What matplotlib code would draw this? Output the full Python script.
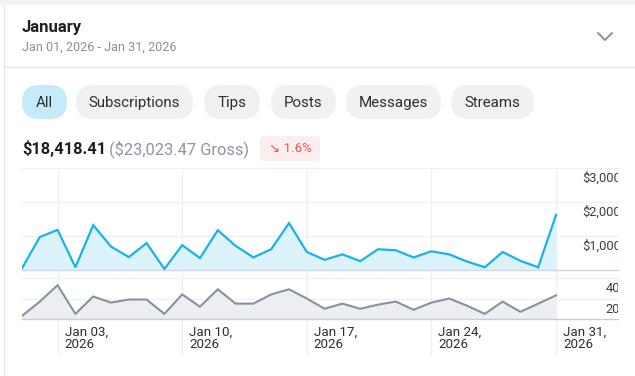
import numpy as np
import matplotlib
matplotlib.use("Agg")
import matplotlib.pyplot as plt
from matplotlib.patches import FancyBboxPatch, Rectangle
from matplotlib import transforms

# ---------------- data ----------------
days = list(range(1, 32))
net_earnings = [50, 970, 1180, 80, 1320, 690, 380, 790, 30, 730, 350, 1170, 710, 370,
                610, 1380, 530, 300, 460, 260, 610, 580, 370, 550, 460, 250, 80, 530,
                270, 80, 1620]
counts = [3, 17, 33, 5, 22, 16, 19, 19, 5, 24, 12, 29, 15, 15, 24, 29, 20, 10, 15, 10,
          14, 17, 9, 16, 20, 13, 5, 17, 7, 15, 23]
tick_days = [3, 10, 17, 24, 31]
tick_dates = ["Jan 03,", "Jan 10,", "Jan 17,", "Jan 24,", "Jan 31,"]
tick_years = ["2026", "2026", "2026", "2026", "2026"]
top_ticks = [1000, 2000, 3000]
top_tick_labels = ["$1,000", "$2,000", "$3,000"]
bottom_ticks = [20, 40]
bottom_tick_labels = ["20", "40"]
pill_labels = ["All", "Subscriptions", "Tips", "Posts", "Messages", "Streams"]
title = "January"
date_range = "Jan 01, 2026 - Jan 31, 2026"
net_total = "$18,418.41"
gross_total = "($23,023.47 Gross)"
change_text = "↘ 1.6%"

# ---------------- setup ----------------
W, H = 635, 376
plt.rcParams['font.family'] = ['Roboto', 'DejaVu Sans']
fig = plt.figure(figsize=(W / 100, H / 100), dpi=100)
fig.patch.set_facecolor("white")


def box(x0, y0, x1, y1):
    return [x0 / W, 1 - y1 / H, (x1 - x0) / W, (y1 - y0) / H]


# overlay for UI elements, pixel coordinates
ui = fig.add_axes([0, 0, 1, 1])
ui.set_xlim(0, W)
ui.set_ylim(H, 0)
ui.axis("off")

ui.add_patch(Rectangle((0, 0), W, 5, color="#f3f4f6", lw=0))
ui.plot([4, 4], [5, H], color="#e4e6e9", lw=1)
ui.plot([4, W], [67, 67], color="#e4e6e9", lw=1)

ui.text(22, 32, title, fontsize=12, fontweight="bold", color="#1d2125", va="baseline")
ui.text(22, 50.5, date_range, fontsize=9.1, color="#8a9099", va="baseline")
ui.plot([598, 605, 612], [33, 40, 33], color="#8a9099", lw=1.4, solid_capstyle="round")

pill_x = [(22, 67), (76, 193), (204, 260), (271, 336), (346, 441), (451, 534)]
for i, (lab, (x0, x1)) in enumerate(zip(pill_labels, pill_x)):
    col = "#c5ebfb" if i == 0 else "#f0f1f3"
    ui.add_patch(FancyBboxPatch((x0, 85), x1 - x0, 34,
                                boxstyle="round,pad=0,rounding_size=17",
                                fc=col, ec="none"))
    ui.text((x0 + x1) / 2, 107.3, lab, fontsize=10.9, color="#2b2f34",
            ha="center", va="baseline")

ui.text(22, 154, net_total, fontsize=11.8, fontweight="bold", color="#1b1f24", va="baseline")
ui.text(109, 154, gross_total, fontsize=11.8, color="#8c96a3", va="baseline")
ui.add_patch(FancyBboxPatch((260, 136), 60, 25, boxstyle="round,pad=0,rounding_size=4",
                            fc="#fdeeee", ec="none"))
ui.text(290, 152, change_text, fontsize=9.6, color="#f05454", ha="center", va="baseline")

# ---------------- charts ----------------
XL, XR = 22, 618
px_per_day = (556 - 22) / 30
xlim = (1, 1 + (XR - XL) / px_per_day)
grid_col = "#eef0f2"

bg = fig.add_axes(box(XL, 168, XR, 355))
bg.set_xlim(*xlim)
bg.set_ylim(0, 1)
bg.axis("off")
for d in tick_days:
    bg.axvline(d, color=grid_col, lw=1, zorder=0)

lab_tr = transforms.blended_transform_factory(bg.transData, fig.transFigure)
lab_tr = transforms.offset_copy(lab_tr, fig=fig, x=7, y=0, units="dots")
for d, t1, t2 in zip(tick_days, tick_dates, tick_years):
    fig.text(d, 1 - 335.7 / H, t1, transform=lab_tr, fontsize=9.6, color="#2b2f34",
             ha="left", va="baseline")
    fig.text(d, 1 - 348 / H, t2, transform=lab_tr, fontsize=9.6, color="#2b2f34",
             ha="left", va="baseline")

# top chart
ax1 = fig.add_axes(box(XL, 168, XR, 270))
ax1.patch.set_alpha(0)
ax1.set_xlim(*xlim)
ax1.set_ylim(0, 3000)
ax1.axis("off")
for v in top_ticks:
    ax1.axhline(v, color=grid_col, lw=1, clip_on=False, zorder=0)
ax1.fill_between(days, net_earnings, 0, color="#dcf3fc", lw=0, zorder=1)
ax1.plot(days, net_earnings, color="#1ab1ee", lw=1.6, zorder=3, solid_joinstyle="miter")
ax1.axhline(0, color="#cfd8e0", lw=1, clip_on=False, zorder=2)
tr1 = transforms.offset_copy(ax1.get_yaxis_transform(), fig=fig, y=-10.5, units="dots")
for v, lab in zip(top_ticks, top_tick_labels):
    t = ax1.text((621 - XL) / (XR - XL), v, lab, transform=tr1, fontsize=9.3,
                 color="#3a3e44", ha="right", va="center", clip_on=True)
    t.set_clip_box(ax1.bbox)

# bottom chart
ax2 = fig.add_axes(box(XL, 278, XR, 319))
ax2.patch.set_alpha(0)
ax2.set_xlim(*xlim)
ax2.set_ylim(0, 40)
ax2.axis("off")
for v in bottom_ticks:
    ax2.axhline(v, color=grid_col, lw=1, clip_on=False, zorder=0)
ax2.fill_between(days, counts, 0, color="#eceef1", lw=0, zorder=1)
ax2.plot(days, counts, color="#8593a0", lw=1.5, zorder=3)
ax2.axhline(0, color="#c8cdd3", lw=1, clip_on=False, zorder=2)
tr2 = transforms.offset_copy(ax2.get_yaxis_transform(), fig=fig, y=-11, units="dots")
for v, lab in zip(bottom_ticks, bottom_tick_labels):
    t = ax2.text((620 - XL) / (XR - XL), v, lab, transform=tr2, fontsize=9.3,
                 color="#3a3e44", ha="right", va="center", clip_on=True)
    t.set_clip_box(ax2.bbox)

fig.savefig("out.png", dpi=100, facecolor="white")
